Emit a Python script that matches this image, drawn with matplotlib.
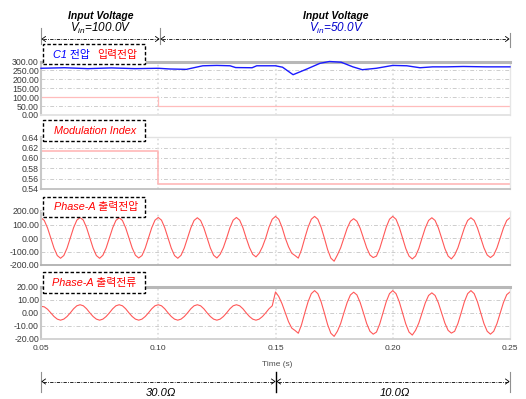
import numpy as np
import matplotlib
matplotlib.use('Agg')
import matplotlib.pyplot as plt
from matplotlib.patches import Rectangle
from matplotlib.lines import Line2D

plt.rcParams['font.family'] = ['Liberation Sans', 'Noto Sans CJK KR', 'DejaVu Sans']
plt.rcParams['mathtext.fontset'] = 'custom'
plt.rcParams['mathtext.it'] = 'Liberation Sans:italic'
plt.rcParams['mathtext.rm'] = 'Liberation Sans'

#%% data
x_ticks = [0.05, 0.10, 0.15, 0.20, 0.25]
x_labels = ['0.05', '0.10', '0.15', '0.20', '0.25']

# panel 1 : C1 voltage (blue) + input voltage (red)
c1_t = [0.05, 0.06, 0.07, 0.08, 0.09, 0.10, 0.105, 0.112, 0.119, 0.125, 0.1306,
        0.133, 0.140, 0.142, 0.150, 0.153, 0.1575, 0.1634, 0.169, 0.173, 0.178,
        0.183, 0.187, 0.193, 0.200, 0.206, 0.2116, 0.217, 0.223, 0.230, 0.240, 0.250]
c1_v = [262, 265, 260, 264, 260, 262, 258, 256, 276, 278, 276,
        266, 265, 276, 276, 268, 226, 258, 290, 300, 296,
        270, 254, 262, 278, 276, 265, 270, 270, 272, 270, 270]
vin_t = [0.05, 0.10, 0.10, 0.25]
vin_v = [100, 100, 50, 50]
p1_ticks = [0, 50, 100, 150, 200, 250, 300]

# panel 2 : modulation index
mi_t = [0.05, 0.10, 0.10, 0.25]
mi_v = [0.613, 0.613, 0.549, 0.549]
p2_ticks = [0.54, 0.56, 0.58, 0.60, 0.62, 0.64]

# panel 3 : phase-A output voltage, one row per 60 Hz cycle, 12 samples per cycle from t=0.05
va_rows = [
    [150, 130, 75, 0, -75, -130, -150, -130, -75, 0, 76, 132],
    [152, 132, 76, 0, -75, -130, -150, -128, -74, 0, 75, 130],
    [150, 130, 75, 0, -74, -128, -148, -130, -75, 0, 76, 132],
    [152, 132, 76, 0, -75, -130, -150, -128, -74, 0, 75, 130],
    [150, 130, 75, 0, -74, -128, -148, -121, -70, 0, 76, 132],
    [152, 132, 76, 0, -70, -121, -140, -113, -65, 0, 80, 139],
    [160, 139, 80, 0, -65, -113, -130, -149, -86, 0, 80, 139],
    [160, 139, 80, 0, -86, -149, -172, -126, -73, 0, 72, 124],
    [143, 124, 72, 0, -73, -126, -145, -134, -78, 0, 80, 139],
    [160, 139, 80, 0, -78, -134, -155, -134, -78, 0, 75, 130],
    [150, 130, 75, 0, -78, -134, -155, -126, -73, 0, 75, 130],
    [150, 130, 75, 0, -73, -126, -145, -126, -73, 0, 75, 130],
    [150],
]
p3_ticks = [-200, -100, 0, 100, 200]

# panel 4 : phase-A output current
ia_rows = [
    [5.0, 4.6, 2.8, 0, -2.8, -4.8, -5.6, -4.8, -2.8, 0, 3.1, 5.4],
    [6.2, 5.4, 3.1, 0, -2.8, -4.8, -5.6, -4.8, -2.8, 0, 3.1, 5.4],
    [6.2, 5.4, 3.1, 0, -2.8, -4.8, -5.6, -4.8, -2.8, 0, 3.1, 5.4],
    [6.2, 5.4, 3.1, 0, -2.8, -4.8, -5.6, -4.8, -2.8, 0, 3.1, 5.4],
    [6.2, 5.4, 3.1, 0, -2.8, -4.8, -5.6, -4.8, -2.8, 0, 3.1, 5.4],
    [6.2, 5.4, 3.1, 0, -2.8, -4.8, -5.6, -4.8, -2.8, 0, 3.1, 5.4],
    [16.0, 12.5, 7.0, 0, -6.8, -11.7, -13.5, -15.6, -9.0, 0, 8.5, 14.7],
    [17.0, 14.7, 8.5, 0, -9.0, -15.6, -18.0, -14.1, -8.2, 0, 7.9, 13.7],
    [15.8, 13.7, 7.9, 0, -8.2, -14.1, -16.3, -14.7, -8.5, 0, 8.5, 14.7],
    [17.0, 14.7, 8.5, 0, -8.5, -14.7, -17.0, -13.4, -7.8, 0, 7.7, 13.3],
    [15.3, 13.3, 7.7, 0, -7.8, -13.4, -15.5, -14.1, -8.2, 0, 8.5, 14.7],
    [17.0, 14.7, 8.5, 0, -8.2, -14.1, -16.3, -14.1, -8.2, 0, 8.0, 13.9],
    [16.0],
]
p4_ticks = [-20, -10, 0, 10, 20]

va = np.concatenate(va_rows)
ia = np.concatenate(ia_rows)
t_wave = 0.05 + np.arange(len(va)) / 720.0

#%% figure
W, H = 526, 399
fig = plt.figure(figsize=(W / 100, H / 100), dpi=100)
fig.patch.set_facecolor('white')

def fx(px):
    return px / W

def fy(py):
    return 1 - py / H

def make_ax(top, bottom):
    return fig.add_axes([fx(41), fy(bottom), fx(510) - fx(41), (bottom - top) / H])

ax1 = make_ax(61.5, 115)
ax2 = make_ax(137.3, 189)
ax3 = make_ax(211, 265)
ax4 = make_ax(286.7, 339)
axes = [ax1, ax2, ax3, ax4]

ax1.plot(vin_t, vin_v, color='#ffbcbc', lw=0.9)
ax1.plot(c1_t, c1_v, color='#1a1aff', lw=1.0, clip_on=False, zorder=5)
ax2.plot(mi_t, mi_v, color='#ffb8b8', lw=1.2)
ax3.plot(t_wave, va, color='#ff5858', lw=0.8)
ax4.plot(t_wave, ia, color='#ff5858', lw=0.8)

ax1.set_ylim(0, 300)
ax2.set_ylim(0.54, 0.64)
ax3.set_ylim(-200, 200)
ax4.set_ylim(-20, 20)

tick_sets = [p1_ticks, p2_ticks, p3_ticks, p4_ticks]
top_style = [('#b8b8b8', 2.2), ('#e2e2e2', 1.0), ('#ececec', 1.0), ('#b8b8b8', 2.2)]
bot_style = ['#e2e2e2', '#c0c0c0', '#b0b0b0', '#d0d0d0']

for i, ax in enumerate(axes):
    ax.set_xlim(0.05, 0.25)
    ticks = tick_sets[i]
    ax.set_yticks(ticks)
    ax.set_yticklabels(['%.2f' % v for v in ticks])
    ax.tick_params(axis='y', length=0, pad=1.5, labelsize=6.3, labelcolor='#3a3a3a')
    ax.set_xticks(x_ticks)
    if i == 3:
        ax.set_xticklabels(x_labels)
        ax.tick_params(axis='x', length=0, pad=4, labelsize=6.0, labelcolor='#3a3a3a')
    else:
        ax.set_xticklabels([])
        ax.tick_params(axis='x', length=0)
    for v in ticks[1:-1]:
        ax.axhline(v, color='#cdcdcd', lw=0.7, ls=(0, (4, 2, 1, 2)), zorder=0)
    for v in x_ticks[1:-1]:
        ax.axvline(v, color='#dcdcdc', lw=1.2, ls=':', zorder=0)
    ax.spines['left'].set_color('#c8c8c8')
    ax.spines['left'].set_linewidth(1.5)
    ax.spines['right'].set_color('#e6e6e6')
    ax.spines['right'].set_linewidth(1.0)
    ax.spines['top'].set_color(top_style[i][0])
    ax.spines['top'].set_linewidth(top_style[i][1])
    ax.spines['bottom'].set_color(bot_style[i])
    ax.spines['bottom'].set_linewidth(1.3)

fig.text(fx(277), fy(364), 'Time (s)', ha='center', va='center', fontsize=6, color='#505050')

#%% title boxes
def box(y0, y1):
    fig.patches.append(Rectangle((fx(43), fy(y1)), fx(145) - fx(43), (y1 - y0) / H,
                                 transform=fig.transFigure, facecolor='white',
                                 edgecolor='black', lw=1.0, ls=(0, (2.5, 1.5)), zorder=6))

box(44, 64)
box(120, 141)
box(197, 217)
box(272, 293)
fig.text(fx(53), fy(55), 'C1 전압', ha='left', va='center', fontsize=7.8, style='italic',
         color='#0000ff', zorder=7)
fig.text(fx(97), fy(55), '입력전압', ha='left', va='center', fontsize=7.8, style='italic',
         color='#ff0000', zorder=7)
fig.text(fx(95), fy(131.5), 'Modulation Index', ha='center', va='center', fontsize=7.8,
         style='italic', color='#ff0000', zorder=7)
fig.text(fx(96), fy(207), 'Phase-A 출력전압', ha='center', va='center', fontsize=7.8,
         style='italic', color='#ff0000', zorder=7)
fig.text(fx(94), fy(283), 'Phase-A 출력전류', ha='center', va='center', fontsize=7.8,
         style='italic', color='#ff0000', zorder=7)

#%% dimension lines
def vline(x, y0, y1, color='#909090', lw=0.8):
    fig.add_artist(Line2D([fx(x), fx(x)], [fy(y0), fy(y1)], transform=fig.transFigure,
                          color=color, lw=lw))

def dim(x0, x1, y):
    fig.add_artist(Line2D([fx(x0 + 2), fx(x1 - 2)], [fy(y), fy(y)], transform=fig.transFigure,
                          color='black', lw=0.6, ls=(0, (4, 1.5, 1, 1.5))))
    for xe, d in ((x0, 1), (x1, -1)):
        fig.add_artist(Line2D([fx(xe + d * 4.5), fx(xe + d * 1), fx(xe + d * 4.5)],
                              [fy(y - 2.5), fy(y), fy(y + 2.5)], transform=fig.transFigure,
                              color='black', lw=0.6))

vline(41, 28, 44)
vline(160, 28, 44)
vline(510, 33, 47)
dim(41, 160, 39)
dim(160, 510, 39)

vline(41, 372, 392)
vline(276, 372, 392, color='black', lw=1.0)
vline(510, 372, 392)
dim(41, 276, 381.5)
dim(276, 510, 381.5)

fig.text(fx(101), fy(16), 'Input Voltage', ha='center', va='center', fontsize=7.5,
         weight='bold', style='italic')
fig.text(fx(101), fy(28.5), r'$V_{in}$=100.0V', ha='center', va='center', fontsize=8.5,
         style='italic')
fig.text(fx(336), fy(16), 'Input Voltage', ha='center', va='center', fontsize=7.5,
         weight='bold', style='italic')
fig.text(fx(337), fy(28.5), r'$V_{in}$=50.0V', ha='center', va='center', fontsize=8.5,
         style='italic', color='#0000cc')

fig.text(fx(161), fy(393), '30.0Ω', ha='center', va='center', fontsize=8, style='italic')
fig.text(fx(395), fy(393), '10.0Ω', ha='center', va='center', fontsize=8, style='italic')

fig.savefig('out.png', dpi=100)
